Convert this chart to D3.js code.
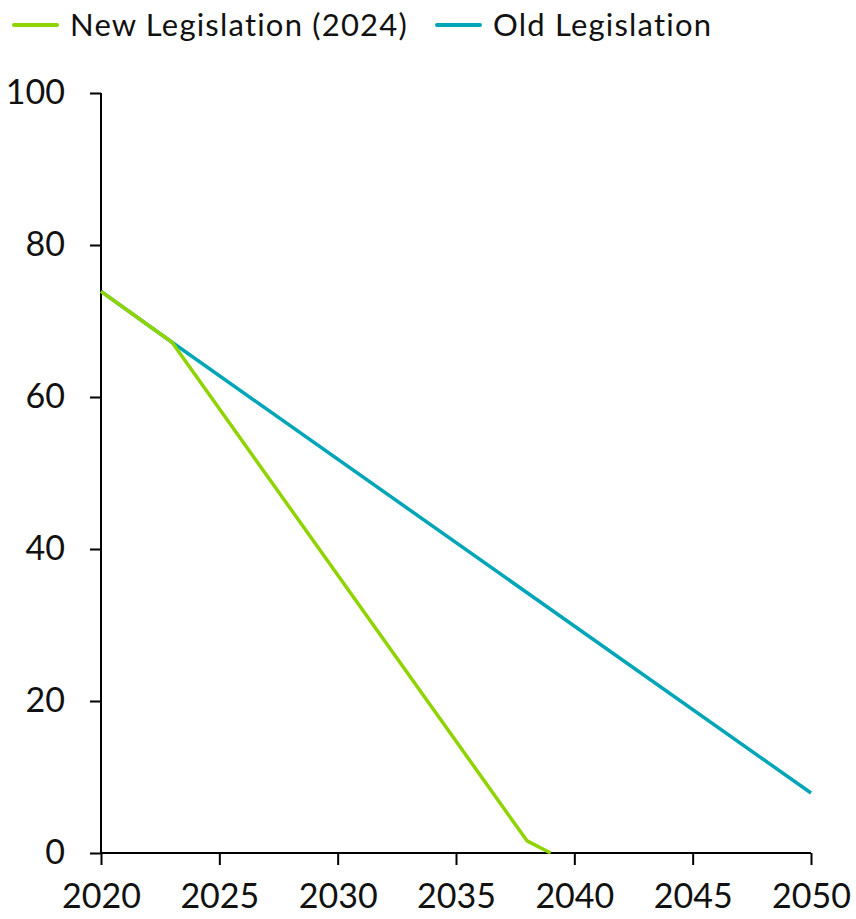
<!DOCTYPE html>
<html><head><meta charset="utf-8">
<script src="https://cdn.jsdelivr.net/npm/d3@7"></script>
<style>body{margin:0;background:#fff}svg{display:block}text{font-family:"Lato","Noto Sans",sans-serif;fill:#111}</style>
</head><body><div id="chart"></div>
<script>
const seriesNames = ["New Legislation (2024)", "Old Legislation"];
const seriesColors = ["#8fd400", "#00a6b8"];
const newYears = [2020, 2023, 2038, 2039];
const newValues = [73.9, 67.2, 1.6, 0];
const oldYears = [2020, 2023, 2050];
const oldValues = [73.9, 67.2, 7.9];
const xTicks = [2020, 2025, 2030, 2035, 2040, 2045, 2050];
const yTicks = [0, 20, 40, 60, 80, 100];

const W = 856, H = 919;
const svg = d3.select("#chart").append("svg").attr("width", W).attr("height", H);
const x = d3.scaleLinear().domain([2020, 2050]).range([101, 811]);
const y = d3.scaleLinear().domain([0, 100]).range([853, 93]);

const yAxis = svg.append("g").attr("transform", "translate(101,0)")
  .call(d3.axisLeft(y).tickValues(yTicks).tickSize(11).tickPadding(25));
const xAxis = svg.append("g").attr("transform", "translate(0,853)")
  .call(d3.axisBottom(x).tickValues(xTicks).tickFormat(d3.format("d")).tickSize(12).tickPadding(19));
[yAxis, xAxis].forEach(g => {
  g.selectAll("path,line").attr("stroke", "#000").attr("stroke-width", 2);
  g.selectAll("text").attr("font-size", 34).attr("fill", "#111")
    .style("font-family", "Lato, 'Noto Sans', sans-serif");
});
xAxis.select(".domain").attr("d", "M101,0H811");
yAxis.select(".domain").attr("d", "M0,853V93");

const line = d3.line().x(d => x(d[0])).y(d => y(d[1]));
const oldData = oldYears.map((yr, i) => [yr, oldValues[i]]);
const newData = newYears.map((yr, i) => [yr, newValues[i]]);
svg.append("path").datum(oldData).attr("d", line).attr("fill", "none")
  .attr("stroke", seriesColors[1]).attr("stroke-width", 3.5).attr("stroke-linejoin", "round");
svg.append("path").datum(newData).attr("d", line).attr("fill", "none")
  .attr("stroke", seriesColors[0]).attr("stroke-width", 3.5).attr("stroke-linejoin", "round");

const legendX = [14, 437];
seriesNames.forEach((name, i) => {
  const g = svg.append("g").attr("transform", `translate(${legendX[i]},25)`);
  g.append("line").attr("x1", 0).attr("x2", 43).attr("y1", 0).attr("y2", 0)
    .attr("stroke", seriesColors[i]).attr("stroke-width", 4).attr("stroke-linecap", "round");
  g.append("text").attr("x", 56).attr("y", 0).attr("dy", "0.35em").attr("font-size", 31)
    .attr("letter-spacing", 1.2).text(name);
});
</script></body></html>
